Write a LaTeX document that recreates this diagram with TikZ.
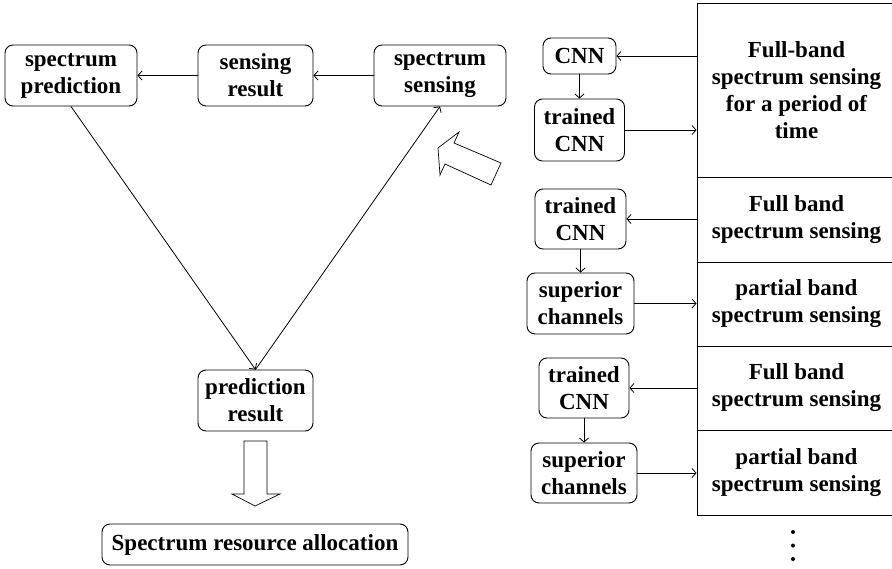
\documentclass[tikz,border=0pt]{standalone}
\usepackage{fontspec}
\setmainfont{Liberation Serif}
\usetikzlibrary{arrows.meta}
\begin{document}
\begin{tikzpicture}[x=1pt,y=-1pt,
  every node/.style={font=\fontsize{23}{27}\selectfont\bfseries, align=center, inner sep=0pt},
  rbox/.style={draw, line width=0.9pt, rounded corners=8pt},
  sbox/.style={draw, line width=0.9pt, minimum width=199pt},
  conn/.style={line width=0.8pt, -{Straight Barb[length=4pt,width=9pt,line width=0.8pt]}},
  hollow/.style={draw, line width=0.7pt, fill=white, line join=miter}
]
\clip (0,0) rectangle (892,568);
\useasboundingbox (0,0) rectangle (892,568);
% left triangle
\node[rbox, minimum width=132pt, minimum height=61pt] (sp) at (71,75.5) {spectrum\\prediction};
\node[rbox, minimum width=115pt, minimum height=61pt] (sr) at (255.5,75.5) {sensing\\result};
\node[rbox, minimum width=132pt, minimum height=61pt] (ss) at (440,75.5) {spectrum\\sensing};
\node[rbox, minimum width=115pt, minimum height=61pt] (pr) at (255.5,400.5) {prediction\\result};
\node[rbox, minimum width=306pt, minimum height=41pt] (sra) at (255,544.5) {Spectrum resource allocation};
\draw[conn] (ss.west) -- (sr.east);
\draw[conn] (sr.west) -- (sp.east);
\draw[conn] (sp.south) -- (pr.north);
\draw[conn] (pr.north) -- (ss.south);
% hollow down arrow
\draw[hollow] (244,441) -- (267,441) -- (267,494) -- (280,494) -- (255,506) -- (232,494) -- (244,494) -- cycle;
% hollow tilted arrow
\draw[hollow] (438,148) -- (459,132) -- (454,143) -- (501,163) -- (491,185) -- (445,164) -- (440,175) -- cycle;
% right column boxes
\node[sbox, minimum height=174pt] (b1) at (796.5,90) {Full-band\\spectrum sensing\\for a period of\\time};
\node[sbox, minimum height=85pt] (b2) at (796.5,219.5) {Full band\\spectrum sensing};
\node[sbox, minimum height=84pt] (b3) at (796.5,304) {partial band\\spectrum sensing};
\node[sbox, minimum height=84pt] (b4) at (796.5,388) {Full band\\spectrum sensing};
\node[sbox, minimum height=85pt] (b5) at (796.5,472.5) {partial band\\spectrum sensing};
% right small boxes
\node[rbox, minimum width=73pt, minimum height=36pt] (cnn) at (579.5,56) {CNN};
\node[rbox, minimum width=90pt, minimum height=62pt] (tc1) at (579.5,130) {trained\\CNN};
\node[rbox, minimum width=91pt, minimum height=60pt] (tc2) at (580.5,219) {trained\\CNN};
\node[rbox, minimum width=107pt, minimum height=61pt] (sc1) at (580.5,303.5) {superior\\channels};
\node[rbox, minimum width=90pt, minimum height=60pt] (tc3) at (584,388) {trained\\CNN};
\node[rbox, minimum width=106pt, minimum height=60pt] (sc2) at (584,473) {superior\\channels};
\draw[conn] (b1.west |- cnn.east) -- (cnn.east);
\draw[conn] (cnn.south) -- (tc1.north);
\draw[conn] (tc1.east) -- (tc1.east -| b1.west);
\draw[conn] (b2.west |- tc2.east) -- (tc2.east);
\draw[conn] (tc2.south) -- (tc2.south |- sc1.north);
\draw[conn] (sc1.east) -- (sc1.east -| b3.west);
\draw[conn] (b4.west |- tc3.east) -- (tc3.east);
\draw[conn] (tc3.south) -- (tc3.south |- sc2.north);
\draw[conn] (sc2.east) -- (sc2.east -| b5.west);
% dots
\coordinate (d1) at (793,532);
\coordinate (d2) at (793,545.5);
\coordinate (d3) at (793,559);
\fill (d1) circle (2pt) (d2) circle (2pt) (d3) circle (2pt);
\end{tikzpicture}
\end{document}
